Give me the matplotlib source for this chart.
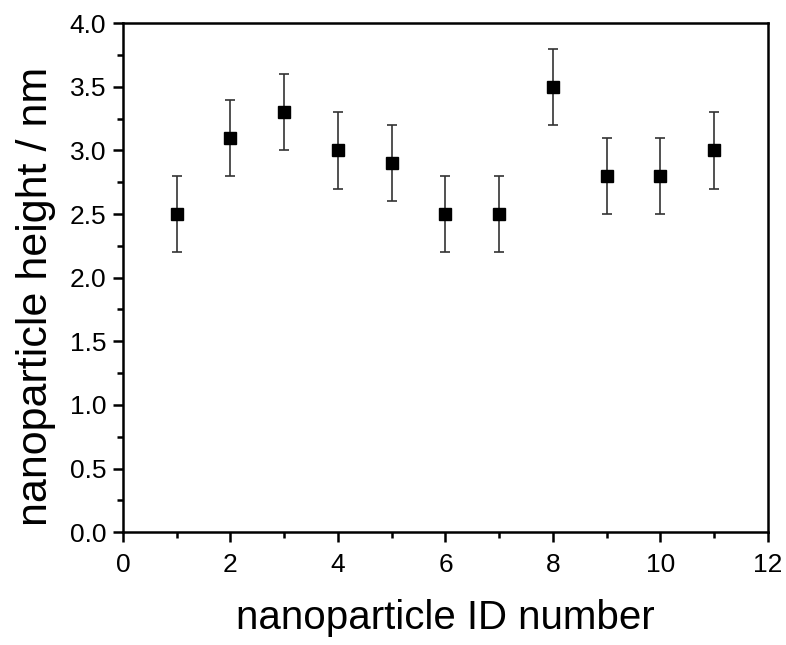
import numpy as np
import matplotlib
matplotlib.use('Agg')
import matplotlib.pyplot as plt
from matplotlib.ticker import MultipleLocator

plt.rcParams['font.family'] = ['Liberation Sans', 'DejaVu Sans']

particle_id = [1, 2, 3, 4, 5, 6, 7, 8, 9, 10, 11]
height = [2.5, 3.1, 3.3, 3.0, 2.9, 2.5, 2.5, 3.5, 2.8, 2.8, 3.0]
height_err = [0.3, 0.3, 0.3, 0.3, 0.3, 0.3, 0.3, 0.3, 0.3, 0.3, 0.3]

fig = plt.figure(figsize=(7.86, 6.45), dpi=100)
ax = fig.add_axes([0.1565, 0.175, 0.8205, 0.789])

ax.errorbar(particle_id, height, yerr=height_err, fmt='s', color='black',
            ecolor='#333333', elinewidth=1.2, capsize=3.8, capthick=1.2,
            markersize=8)

ax.set_xlim(0, 12)
ax.set_ylim(0, 4.0)
ax.xaxis.set_major_locator(MultipleLocator(2))
ax.xaxis.set_minor_locator(MultipleLocator(1))
ax.yaxis.set_major_locator(MultipleLocator(0.5))
ax.yaxis.set_minor_locator(MultipleLocator(0.25))
ax.yaxis.set_major_formatter(matplotlib.ticker.FormatStrFormatter('%.1f'))

for side in ['left', 'bottom', 'top', 'right']:
    ax.spines[side].set_linewidth(1.8)
ax.tick_params(which='major', direction='out', length=7, width=1.8,
               labelsize=19, top=False, right=False)
ax.tick_params(axis='x', which='major', pad=8)
ax.tick_params(axis='y', which='major', pad=5)
ax.tick_params(which='minor', direction='out', length=4, width=1.8,
               top=False, right=False)

ax.set_xlabel('nanoparticle ID number', fontsize=29, labelpad=16)
ax.set_ylabel('nanoparticle height / nm', fontsize=31)
ax.yaxis.set_label_coords(-0.104, 0.464)

fig.savefig('out.png', dpi=100)
